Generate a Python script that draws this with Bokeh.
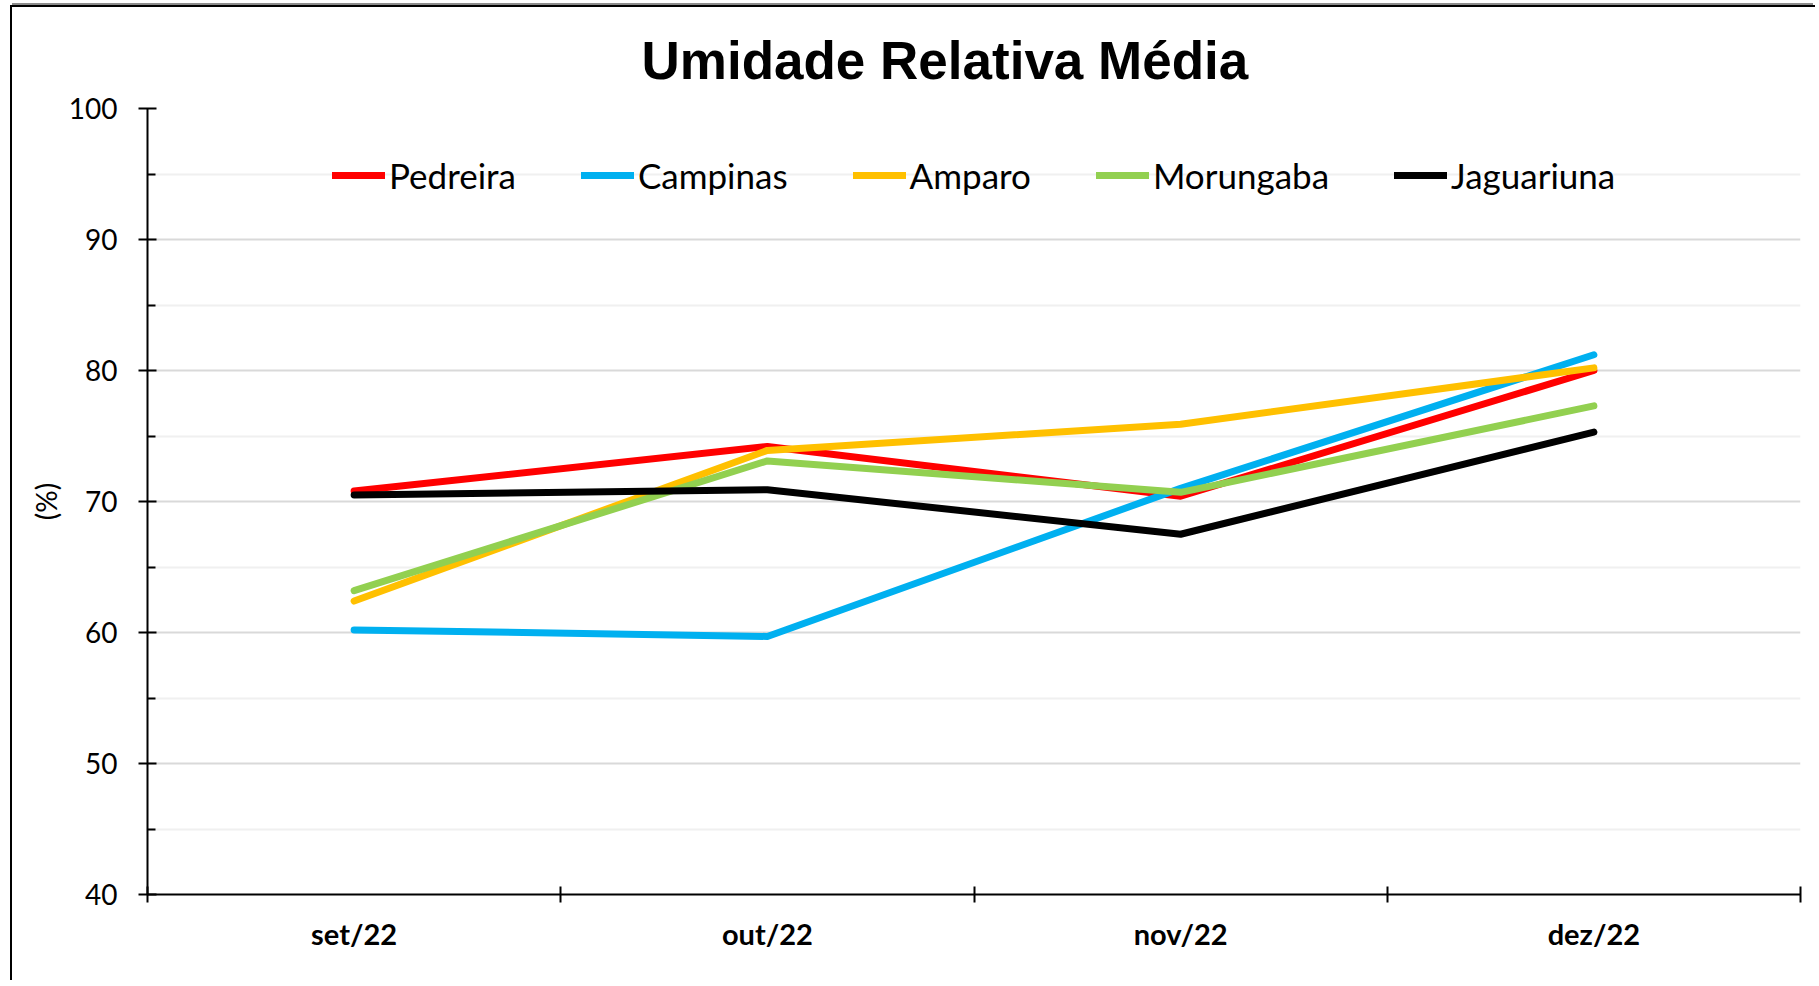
import numpy as np
from bokeh.plotting import figure
from bokeh.models import FixedTicker, Range1d, Legend, LegendItem, Title
from bokeh.embed import file_html
from bokeh.resources import INLINE

months = ["set/22", "out/22", "nov/22", "dez/22"]
pedreira = [70.8, 74.2, 70.4, 80.0]
campinas = [60.2, 59.7, 71.0, 81.2]
amparo = [62.4, 73.9, 75.9, 80.2]
morungaba = [63.2, 73.1, 70.7, 77.3]
jaguariuna = [70.5, 70.9, 67.5, 75.3]

series_names = ["Pedreira", "Campinas", "Amparo", "Morungaba", "Jaguariuna"]
series_vals = [pedreira, campinas, amparo, morungaba, jaguariuna]
colors = ["#FF0000", "#00B0F0", "#FFC000", "#92D050", "#000000"]

y_ticks = [40, 50, 60, 70, 80, 90, 100]
y_minor = [45, 55, 65, 75, 85, 95]

FONT = "Lato"

xpos = list(np.arange(len(months)) + 0.5)

p = figure(width=1805, height=975, output_backend="svg", toolbar_location=None,
           x_range=Range1d(0, len(months)), y_range=Range1d(40, 100))
p.styles = {"border-left": "2px solid black", "border-top": "2px solid black",
            "margin-left": "10px", "margin-top": "5px",
            "box-shadow": "0 -4px 0 -2px #8c8c8c"}
p.min_border_left = 135
p.min_border_right = 17
p.min_border_top = 101
p.min_border_bottom = 88
p.outline_line_color = None
p.background_fill_color = "white"
p.border_fill_color = "white"

p.title = Title(text="Umidade Relativa Média", align="left", offset=494,
                text_font="Liberation Sans", text_font_size="53px",
                text_font_style="bold", text_color="black", standoff=38)

renderers = []
for name, vals, c in zip(series_names, series_vals, colors):
    r = p.line(xpos, vals, line_color=c, line_width=7, line_cap="round", line_join="round")
    renderers.append((name, r))

# x axis
xa = p.xaxis[0]
xa.ticker = FixedTicker(ticks=xpos, minor_ticks=list(range(len(months) + 1)))
xa.major_label_overrides = {float(x): m for x, m in zip(xpos, months)}
xa.major_tick_out = 0
xa.major_tick_in = 0
xa.minor_tick_out = 8
xa.minor_tick_in = 8
xa.minor_tick_line_color = "black"
xa.minor_tick_line_width = 2
xa.axis_line_color = "black"
xa.axis_line_width = 2
xa.major_label_text_font = FONT
xa.major_label_text_font_style = "bold"
xa.major_label_text_font_size = "29px"
xa.major_label_text_color = "black"
xa.major_label_standoff = 13

# y axis
ya = p.yaxis[0]
ya.ticker = FixedTicker(ticks=y_ticks, minor_ticks=y_minor)
ya.major_tick_out = 9
ya.major_tick_in = 9
ya.minor_tick_out = 0
ya.minor_tick_in = 8
ya.major_tick_line_color = "black"
ya.minor_tick_line_color = "black"
ya.major_tick_line_width = 2
ya.minor_tick_line_width = 2
ya.axis_line_color = "black"
ya.axis_line_width = 2
ya.major_label_text_font = FONT
ya.major_label_text_font_size = "28px"
ya.major_label_text_color = "black"
ya.major_label_standoff = 21
ya.axis_label = "(%)"
ya.axis_label_text_font = FONT
ya.axis_label_text_font_size = "28px"
ya.axis_label_text_font_style = "normal"
ya.axis_label_text_color = "black"
ya.axis_label_standoff = 3

p.xgrid.grid_line_color = None
p.ygrid.ticker = FixedTicker(ticks=y_ticks, minor_ticks=y_minor)
p.ygrid.grid_line_color = "#d9d9d9"
p.ygrid.grid_line_width = 2
p.ygrid.minor_grid_line_color = "#f0f0f0"
p.ygrid.minor_grid_line_width = 2

legend = Legend(items=[LegendItem(label=n, renderers=[r]) for n, r in renderers],
                orientation="horizontal", location=(185, 698),
                label_text_font=FONT, label_text_font_size="35px", label_text_color="black",
                glyph_width=53, glyph_height=30, label_standoff=4, spacing=65,
                padding=0, margin=0, border_line_color=None, background_fill_alpha=0)
p.add_layout(legend, "center")

open("out.html", "w").write(file_html(p, INLINE))
